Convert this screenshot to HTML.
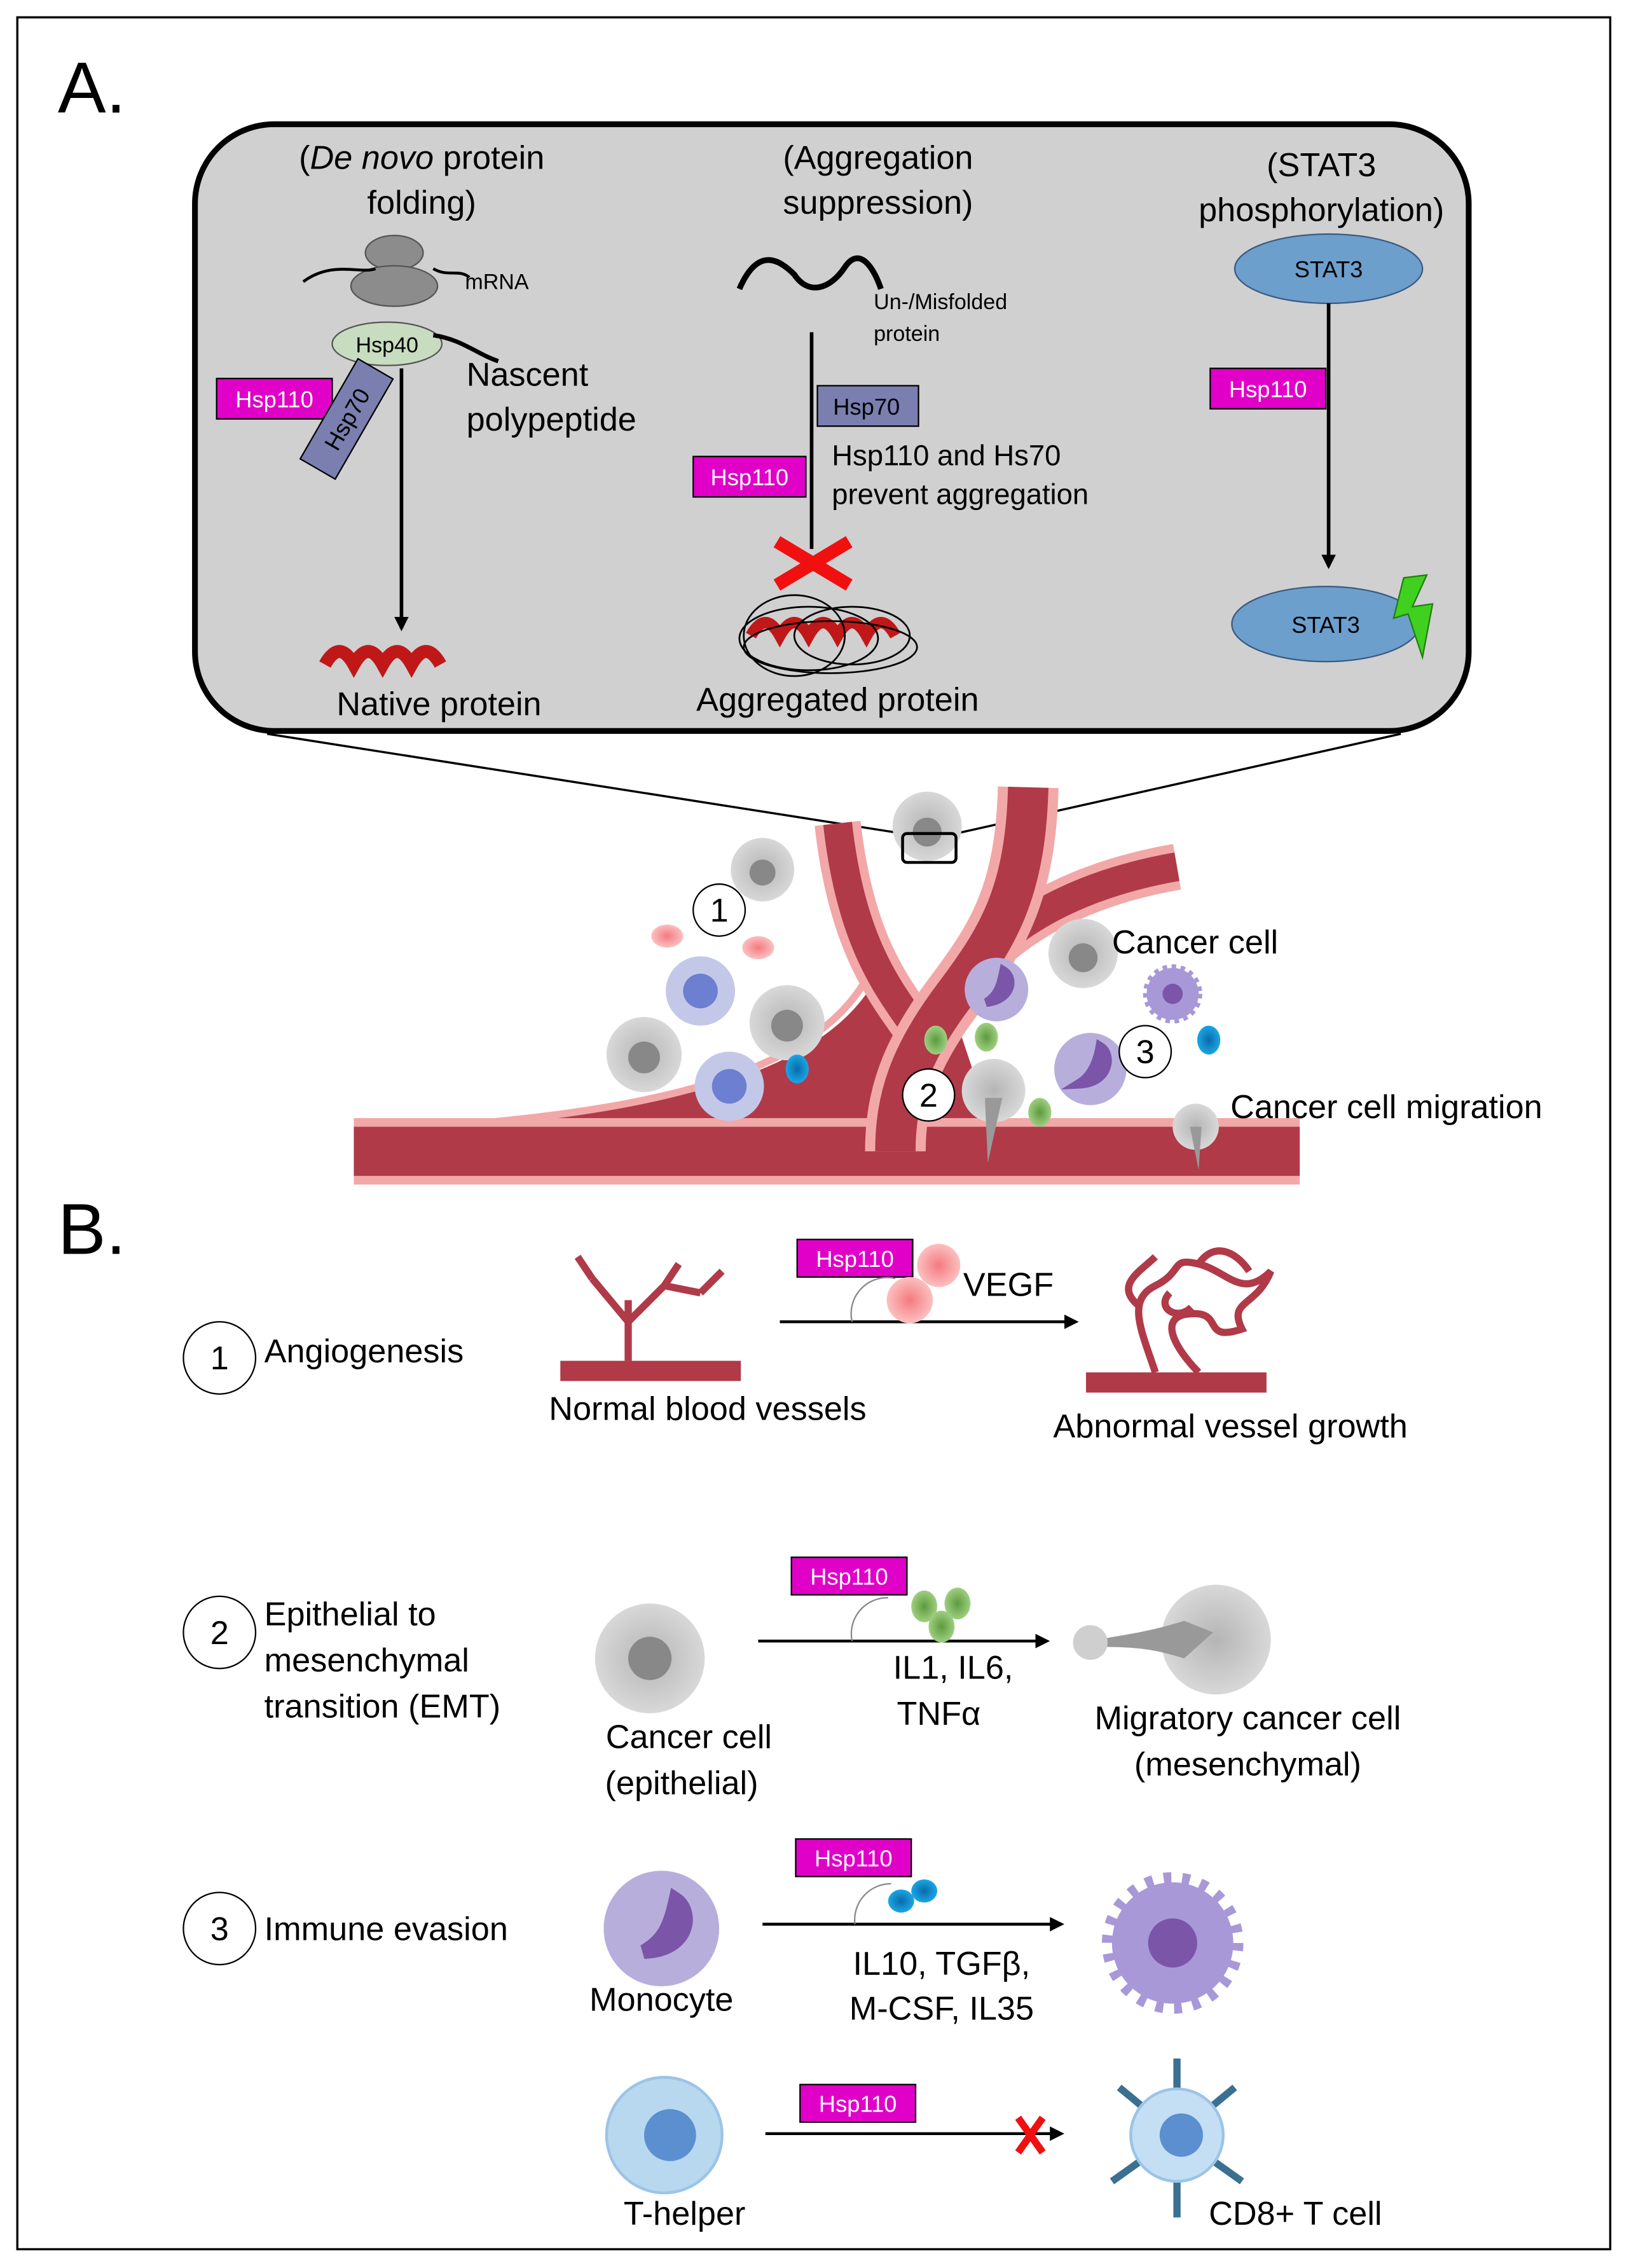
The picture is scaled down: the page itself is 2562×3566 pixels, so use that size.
<!DOCTYPE html>
<html><head><meta charset="utf-8"><style>
html,body{margin:0;padding:0;background:#fff}
svg{display:block}
text{font-family:"Liberation Sans",sans-serif}
</style></head><body>
<svg width="2562" height="3566" viewBox="0 0 1128 1570" preserveAspectRatio="none" xmlns="http://www.w3.org/2000/svg">
<defs>
<radialGradient id="gc" cx="50%" cy="50%" r="50%"><stop offset="0" stop-color="#b5b5b5"/><stop offset="1" stop-color="#d8d8d8"/></radialGradient>
<radialGradient id="pk" cx="50%" cy="50%" r="50%"><stop offset="0" stop-color="#f47a80"/><stop offset="1" stop-color="#fbc0c0"/></radialGradient>
<radialGradient id="gr" cx="50%" cy="50%" r="50%"><stop offset="0" stop-color="#5d9a3e"/><stop offset="1" stop-color="#9fcf80"/></radialGradient>
<radialGradient id="bl" cx="50%" cy="50%" r="50%"><stop offset="0" stop-color="#0a6aa8"/><stop offset="1" stop-color="#1aa6e6"/></radialGradient>
<marker id="ar" markerWidth="10" markerHeight="10" refX="8" refY="5" orient="auto" markerUnits="userSpaceOnUse"><path d="M0,0 L10,5 L0,10 z" fill="#000"/></marker>
</defs>
<rect x="12" y="12" width="1103" height="1545" fill="#fff" stroke="#000" stroke-width="1.5"/>
<text x="40" y="78" font-size="50">A.</text>
<rect x="135" y="86" width="882" height="420" rx="55" fill="#d0d0d0" stroke="#000" stroke-width="4"/>
<line x1="185" y1="508" x2="625" y2="577" stroke="#000" stroke-width="1.5"/>
<line x1="970" y1="508" x2="662" y2="577" stroke="#000" stroke-width="1.5"/>

<!-- col 1 -->
<text x="292" y="117" font-size="23" text-anchor="middle">(<tspan font-style="italic">De novo</tspan> protein</text>
<text x="292" y="148" font-size="23" text-anchor="middle">folding)</text>
<ellipse cx="273" cy="175" rx="20" ry="12" fill="#8c8c8c" stroke="#555"/>
<ellipse cx="273" cy="198" rx="30" ry="14" fill="#8c8c8c" stroke="#555"/>
<path d="M210,195 C230,180 250,190 260,186 M300,186 C310,192 318,186 325,192" stroke="#000" fill="none" stroke-width="2"/>
<text x="322" y="200" font-size="15">mRNA</text>
<ellipse cx="268" cy="238" rx="38" ry="15" fill="#c8dcc0" stroke="#555"/>
<text x="268" y="244" font-size="15" text-anchor="middle">Hsp40</text>
<path d="M300,232 C320,235 330,245 345,250" stroke="#000" stroke-width="3" fill="none"/>
<text x="323" y="267" font-size="23">Nascent</text>
<text x="323" y="298" font-size="23">polypeptide</text>
<rect x="150" y="262" width="80" height="28" fill="#e000c8" stroke="#000"/>
<text x="190" y="282" font-size="16" fill="#fff" text-anchor="middle">Hsp110</text>
<g transform="translate(240,290) rotate(-60)"><rect x="-40" y="-14" width="80" height="28" fill="#7a7fb0" stroke="#000"/><text x="0" y="6" font-size="16" text-anchor="middle">Hsp70</text></g>
<line x1="278" y1="255" x2="278" y2="435" stroke="#000" stroke-width="2.5" marker-end="url(#ar)"/>
<path d="M225,460 q10,-18 20,0 q10,-18 20,0 q10,-18 20,0 q10,-18 20,0" stroke="#c01818" stroke-width="9" fill="none"/>
<text x="304" y="495" font-size="23" text-anchor="middle">Native protein</text>

<!-- col 2 -->
<text x="608" y="117" font-size="23" text-anchor="middle">(Aggregation</text>
<text x="608" y="148" font-size="23" text-anchor="middle">suppression)</text>
<path d="M512,200 C525,170 540,180 550,190 C560,205 575,200 585,185 C595,170 605,185 610,200" stroke="#000" stroke-width="4" fill="none"/>
<text x="605" y="214" font-size="15">Un-/Misfolded</text>
<text x="605" y="236" font-size="15">protein</text>
<line x1="562" y1="230" x2="562" y2="380" stroke="#000" stroke-width="2.5"/>
<rect x="566" y="267" width="70" height="28" fill="#7a7fb0" stroke="#000"/>
<text x="600" y="287" font-size="16" text-anchor="middle">Hsp70</text>
<rect x="480" y="316" width="78" height="28" fill="#e000c8" stroke="#000"/>
<text x="519" y="336" font-size="16" fill="#fff" text-anchor="middle">Hsp110</text>
<text x="576" y="322" font-size="20">Hsp110 and Hs70</text>
<text x="576" y="349" font-size="20">prevent aggregation</text>
<path d="M538,375 L588,405 M588,375 L538,405" stroke="#f01010" stroke-width="9"/>
<path d="M520,440 q10,-18 20,0 q10,-18 20,0 q10,-18 20,0 q10,-18 20,0 q10,-18 20,0" stroke="#c01818" stroke-width="8" fill="none"/>
<g fill="none" stroke="#000" stroke-width="1.2"><ellipse cx="560" cy="442" rx="48" ry="22"/><ellipse cx="575" cy="448" rx="60" ry="18"/><ellipse cx="550" cy="440" rx="35" ry="28"/><ellipse cx="590" cy="440" rx="40" ry="20"/></g>
<text x="580" y="492" font-size="23" text-anchor="middle">Aggregated protein</text>

<!-- col 3 -->
<text x="915" y="122" font-size="23" text-anchor="middle">(STAT3</text>
<text x="915" y="153" font-size="23" text-anchor="middle">phosphorylation)</text>
<ellipse cx="920" cy="186" rx="65" ry="24" fill="#6d9fcd" stroke="#3a5a80"/>
<text x="920" y="192" font-size="16" text-anchor="middle">STAT3</text>
<line x1="920" y1="210" x2="920" y2="392" stroke="#000" stroke-width="2.5" marker-end="url(#ar)"/>
<rect x="838" y="255" width="80" height="28" fill="#e000c8" stroke="#000"/>
<text x="878" y="275" font-size="16" fill="#fff" text-anchor="middle">Hsp110</text>
<ellipse cx="918" cy="432" rx="65" ry="26" fill="#6d9fcd" stroke="#3a5a80"/>
<text x="918" y="438" font-size="16" text-anchor="middle">STAT3</text>
<path d="M972,400 L988,398 L978,420 L992,418 L985,455 L975,425 L965,428 z" fill="#40d020" stroke="#208010"/>

<!-- vessels -->
<path d="M300,782 C470,770 570,740 605,680 L660,700 L690,790 L300,790 z" fill="#b03a48"/>
<path d="M300,780 C470,768 570,738 603,672" stroke="#f2a8a8" stroke-width="5" fill="none"/>
<g fill="none" stroke-linecap="butt">
<path d="M245,797 L900,797" stroke="#f2a8a8" stroke-width="46"/>
<path d="M245,797 L900,797" stroke="#b03a48" stroke-width="34"/>
<path d="M580,570 C590,660 620,690 640,720 C660,680 700,620 815,600" stroke="#f2a8a8" stroke-width="32"/>
<path d="M580,570 C590,660 620,690 640,720 C660,680 700,620 815,600" stroke="#b03a48" stroke-width="20"/>
<path d="M712,545 C710,620 690,650 660,690 C630,730 620,760 620,797" stroke="#f2a8a8" stroke-width="42"/>
<path d="M712,545 C710,620 690,650 660,690 C630,730 620,760 620,797" stroke="#b03a48" stroke-width="28"/>
</g>
<path d="M245,778 L900,778" stroke="#f2a8a8" stroke-width="0"/>
<!-- cells -->
<g>
<circle cx="642" cy="572" r="24" fill="url(#gc)"/><circle cx="642" cy="576" r="10" fill="#888"/>
<rect x="625" y="577" width="37" height="20" rx="3" fill="none" stroke="#000" stroke-width="2"/>
<circle cx="528" cy="602" r="22" fill="url(#gc)"/><circle cx="528" cy="604" r="9" fill="#888"/>
<circle cx="545" cy="708" r="26" fill="url(#gc)"/><circle cx="545" cy="710" r="11" fill="#888"/>
<circle cx="446" cy="730" r="26" fill="url(#gc)"/><circle cx="446" cy="732" r="11" fill="#888"/>
<circle cx="750" cy="660" r="24" fill="url(#gc)"/><circle cx="750" cy="663" r="10" fill="#888"/>
<circle cx="688" cy="755" r="22" fill="url(#gc)"/><path d="M682,760 L694,760 L684,805 z" fill="#999"/>
<circle cx="828" cy="780" r="16" fill="url(#gc)"/><path d="M824,780 L832,780 L830,810 z" fill="#999"/>
<ellipse cx="462" cy="648" rx="11" ry="8" fill="url(#pk)"/>
<ellipse cx="525" cy="656" rx="11" ry="8" fill="url(#pk)"/>
<circle cx="485" cy="686" r="24" fill="#c4c8e8"/><circle cx="485" cy="686" r="12" fill="#6c7fd0"/>
<circle cx="505" cy="752" r="24" fill="#c4c8e8"/><circle cx="505" cy="752" r="12" fill="#6c7fd0"/>
<ellipse cx="552" cy="740" rx="8" ry="10" fill="url(#bl)"/>
<ellipse cx="837" cy="720" rx="8" ry="10" fill="url(#bl)"/>
<ellipse cx="648" cy="720" rx="8" ry="10" fill="url(#gr)"/>
<ellipse cx="683" cy="718" rx="8" ry="10" fill="url(#gr)"/>
<ellipse cx="720" cy="770" rx="8" ry="10" fill="url(#gr)"/>
<circle cx="690" cy="685" r="22" fill="#b8aedc"/><path d="M695,672 c8,5 6,20 -12,22 c8,-5 10,-12 12,-22z" fill="#7b55a8" stroke="#7b55a8" stroke-width="6"/>
<circle cx="755" cy="740" r="25" fill="#b8aedc"/><path d="M762,725 c8,5 6,24 -14,25 c8,-5 12,-14 14,-25z" fill="#7b55a8" stroke="#7b55a8" stroke-width="7"/>
<circle cx="812" cy="688" r="18" fill="#a898d8" stroke="#a898d8" stroke-width="5" stroke-dasharray="3 3"/><circle cx="812" cy="688" r="7" fill="#7b55a8"/>
</g>
<g font-size="23" fill="#000">
<circle cx="498" cy="630" r="18" fill="#fff" stroke="#000"/><text x="498" y="638" text-anchor="middle">1</text>
<circle cx="643" cy="758" r="18" fill="#fff" stroke="#000"/><text x="643" y="766" text-anchor="middle">2</text>
<circle cx="793" cy="728" r="18" fill="#fff" stroke="#000"/><text x="793" y="736" text-anchor="middle">3</text>
<text x="770" y="660">Cancer cell</text>
<text x="852" y="774">Cancer cell migration</text>
</g>

<!-- B -->
<text x="40" y="868" font-size="50">B.</text>
<g font-size="23">
<circle cx="152" cy="940" r="25" fill="#fff" stroke="#000"/><text x="152" y="948" text-anchor="middle">1</text>
<text x="183" y="943">Angiogenesis</text>
<circle cx="152" cy="1130" r="25" fill="#fff" stroke="#000"/><text x="152" y="1138" text-anchor="middle">2</text>
<text x="183" y="1125">Epithelial to</text>
<text x="183" y="1157">mesenchymal</text>
<text x="183" y="1189">transition (EMT)</text>
<circle cx="152" cy="1335" r="25" fill="#fff" stroke="#000"/><text x="152" y="1343" text-anchor="middle">3</text>
<text x="183" y="1343">Immune evasion</text>
</g>
<rect x="388" y="942" width="125" height="14" fill="#b03a48"/>
<path d="M435,942 L435,900 M435,915 L410,885 M435,915 L460,890 M460,890 L470,875 M460,890 L485,895 M410,885 L400,870 M485,895 L500,880" stroke="#b03a48" stroke-width="5" fill="none"/>
<text x="490" y="983" font-size="23" text-anchor="middle">Normal blood vessels</text>
<line x1="540" y1="915" x2="745" y2="915" stroke="#000" stroke-width="2" marker-end="url(#ar)"/>
<rect x="552" y="858" width="80" height="26" fill="#e000c8" stroke="#000"/>
<text x="592" y="877" font-size="16" fill="#fff" text-anchor="middle">Hsp110</text>
<path d="M590,915 a25,25 0 0 1 30,-30" stroke="#888" fill="none"/>
<circle cx="650" cy="876" r="15" fill="url(#pk)"/>
<circle cx="630" cy="900" r="16" fill="url(#pk)"/>
<text x="667" y="897" font-size="23">VEGF</text>
<rect x="752" y="950" width="125" height="14" fill="#b03a48"/>
<path d="M800,950 C790,920 780,900 800,890 C820,880 810,870 830,875 C850,880 860,900 880,880 C870,905 850,900 860,920 C830,930 850,905 820,910 C800,915 820,940 830,950 M790,905 C770,890 790,880 800,870 M830,875 C840,860 855,865 865,880 M810,895 C800,905 815,915 825,905" stroke="#b03a48" stroke-width="5" fill="none"/>
<text x="852" y="995" font-size="23" text-anchor="middle">Abnormal vessel growth</text>
<circle cx="450" cy="1148" r="38" fill="url(#gc)"/><circle cx="450" cy="1148" r="15" fill="#888"/>
<text x="477" y="1210" font-size="23" text-anchor="middle">Cancer cell</text>
<text x="472" y="1242" font-size="23" text-anchor="middle">(epithelial)</text>
<line x1="525" y1="1136" x2="725" y2="1136" stroke="#000" stroke-width="2" marker-end="url(#ar)"/>
<rect x="548" y="1078" width="80" height="26" fill="#e000c8" stroke="#000"/>
<text x="588" y="1097" font-size="16" fill="#fff" text-anchor="middle">Hsp110</text>
<path d="M590,1136 a25,25 0 0 1 25,-30" stroke="#888" fill="none"/>
<ellipse cx="640" cy="1112" rx="9" ry="11" fill="url(#gr)"/>
<ellipse cx="663" cy="1110" rx="9" ry="11" fill="url(#gr)"/>
<ellipse cx="652" cy="1126" rx="9" ry="11" fill="url(#gr)"/>
<text x="660" y="1162" font-size="23" text-anchor="middle">IL1, IL6,</text>
<text x="650" y="1194" font-size="23" text-anchor="middle">TNFα</text>
<circle cx="842" cy="1135" r="38" fill="url(#gc)"/>
<path d="M760,1135 C790,1130 800,1128 820,1122 L840,1130 L820,1148 C800,1142 790,1140 760,1140 z" fill="#999"/>
<circle cx="755" cy="1137" r="12" fill="#cfcfcf"/>
<text x="864" y="1197" font-size="23" text-anchor="middle">Migratory cancer cell</text>
<text x="864" y="1229" font-size="23" text-anchor="middle">(mesenchymal)</text>
<circle cx="458" cy="1335" r="40" fill="#b8aedc"/>
<path d="M468,1315 c12,8 10,35 -22,36 c14,-8 18,-18 22,-36z" fill="#7b55a8" stroke="#7b55a8" stroke-width="10"/>
<text x="458" y="1392" font-size="23" text-anchor="middle">Monocyte</text>
<line x1="528" y1="1332" x2="735" y2="1332" stroke="#000" stroke-width="2" marker-end="url(#ar)"/>
<rect x="551" y="1273" width="80" height="26" fill="#e000c8" stroke="#000"/>
<text x="591" y="1292" font-size="16" fill="#fff" text-anchor="middle">Hsp110</text>
<path d="M592,1332 a25,25 0 0 1 25,-28" stroke="#888" fill="none"/>
<ellipse cx="624" cy="1316" rx="9" ry="8" fill="url(#bl)"/>
<ellipse cx="640" cy="1309" rx="9" ry="8" fill="url(#bl)"/>
<text x="652" y="1367" font-size="23" text-anchor="middle">IL10, TGFβ,</text>
<text x="652" y="1398" font-size="23" text-anchor="middle">M-CSF, IL35</text>
<circle cx="812" cy="1345" r="42" fill="#a898d8" stroke="#a898d8" stroke-width="14" stroke-dasharray="5 7"/>
<circle cx="812" cy="1345" r="17" fill="#7b55a8"/>
<circle cx="460" cy="1478" r="40" fill="#b8d8f0" stroke="#9cc4e6" stroke-width="2"/>
<circle cx="464" cy="1478" r="18" fill="#5b8fd0"/>
<text x="474" y="1540" font-size="23" text-anchor="middle">T-helper</text>
<line x1="530" y1="1477" x2="735" y2="1477" stroke="#000" stroke-width="2" marker-end="url(#ar)"/>
<rect x="554" y="1443" width="80" height="26" fill="#e000c8" stroke="#000"/>
<text x="594" y="1462" font-size="16" fill="#fff" text-anchor="middle">Hsp110</text>
<path d="M705,1466 L722,1490 M722,1466 L705,1490" stroke="#f01010" stroke-width="5"/>
<g stroke="#3a7090" stroke-width="5">
<line x1="815" y1="1478" x2="775" y2="1445"/><line x1="815" y1="1478" x2="855" y2="1445"/><line x1="815" y1="1478" x2="770" y2="1510"/><line x1="815" y1="1478" x2="860" y2="1510"/><line x1="815" y1="1478" x2="815" y2="1535"/><line x1="815" y1="1478" x2="815" y2="1425"/>
</g>
<circle cx="815" cy="1478" r="32" fill="#c4dff4" stroke="#9cc4e6" stroke-width="2"/>
<circle cx="818" cy="1478" r="15" fill="#5b8fd0"/>
<text x="897" y="1540" font-size="23" text-anchor="middle">CD8+ T cell</text>
</svg>
</body></html>
